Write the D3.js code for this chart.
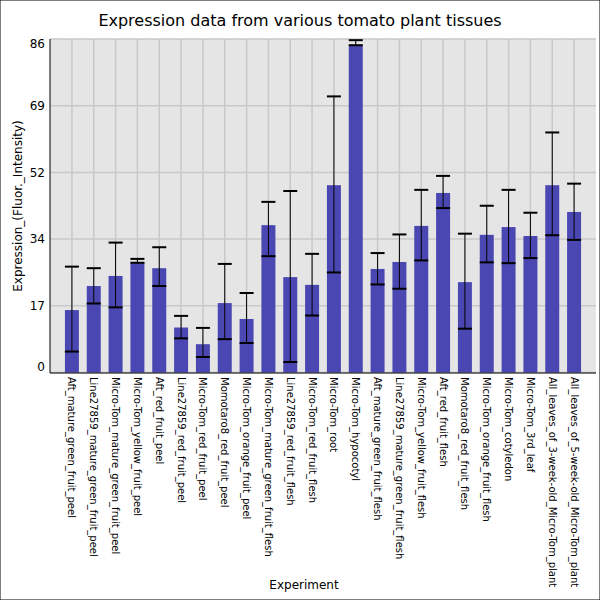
<!DOCTYPE html>
<html>
<head>
<script src="https://cdn.jsdelivr.net/npm/d3@7"></script>
<style>
  body { margin: 0; }
  text { font-family: "DejaVu Sans", sans-serif; }
</style>
</head>
<body>
<script>
const experiments = ['Aft_mature_green_fruit_peel', 'Line27859_mature_green_fruit_peel', 'Micro-Tom_mature_green_fruit_peel',
  'Micro-Tom_yellow_fruit_peel', 'Aft_red_fruit_peel', 'Line27859_red_fruit_peel', 'Micro-Tom_red_fruit_peel',
  'Momotaro8_red_fruit_peel', 'Micro-Tom_orange_fruit_peel', 'Micro-Tom_mature_green_fruit_flesh',
  'Line27859_red_fruit_flesh', 'Micro-Tom_red_fruit_flesh', 'Micro-Tom_root', 'Micro-Tom_hypocotyl',
  'Aft_mature_green_fruit_flesh', 'Line27859_mature_green_fruit_flesh', 'Micro-Tom_yellow_fruit_flesh',
  'Aft_red_fruit_flesh', 'Momotaro8_red_fruit_flesh', 'Micro-Tom_orange_fruit_flesh', 'Micro-Tom_cotyledon',
  'Micro-Tom_3rd_leaf', 'All_leaves_of_3-week-old_Micro-Tom_plant', 'All_leaves_of_5-week-old_Micro-Tom_plant']
const values = [16.1, 22.3, 24.9, 28.4, 26.9, 11.6, 7.3, 17.9, 13.8, 38.0, 24.6, 22.6,
  48.3, 84.4, 26.7, 28.5, 37.8, 46.3, 23.3, 35.5, 37.5, 35.2, 48.3, 41.4]
const errLow = [5.4, 17.8, 16.8, 28.3, 22.3, 8.8, 4.0, 8.6, 7.6, 30.0, 2.7, 14.7,
  25.8, 84.4, 22.7, 21.6, 28.9, 42.4, 11.3, 28.4, 28.2, 29.5, 35.4, 34.2]
const errHigh = [27.3, 26.9, 33.5, 29.3, 32.3, 14.6, 11.5, 28.0, 20.5, 44.0, 46.8, 30.6,
  71.2, 85.7, 30.8, 35.6, 47.1, 50.7, 35.8, 43.0, 47.1, 41.2, 61.9, 48.7]
const yTicks = [0, 17.2, 34.4, 51.6, 68.8, 86]

const W = 600, H = 600
const plot = { left: 50, right: 596, top: 39, bottom: 373 }

const svg = d3.select('body').append('svg').attr('width', W).attr('height', H)
svg.append('rect').attr('width', W).attr('height', H).attr('fill', '#fff')
  .attr('stroke', '#000').attr('stroke-width', 1)

const x = d3.scaleBand().domain(experiments).range([plot.left + 11, plot.right - 11]).paddingInner(0.36).paddingOuter(0.18)
const y = d3.scaleLinear().domain([0, 86]).range([plot.bottom - 0.5, plot.top])

svg.append('rect').attr('x', plot.left).attr('y', plot.top)
  .attr('width', plot.right - plot.left).attr('height', plot.bottom - plot.top).attr('fill', '#e5e5e5')

const g = svg.append('g')
g.selectAll('.hg').data(yTicks).enter().append('line')
  .attr('x1', plot.left).attr('x2', plot.right).attr('y1', d => y(d)).attr('y2', d => y(d))
  .attr('stroke', '#c8c8c8').attr('stroke-width', 1.5)
g.selectAll('.vg').data(experiments).enter().append('line')
  .attr('x1', d => x(d) + x.bandwidth() / 2).attr('x2', d => x(d) + x.bandwidth() / 2)
  .attr('y1', plot.top).attr('y2', plot.bottom).attr('stroke', '#c8c8c8').attr('stroke-width', 1.5)

g.selectAll('.bar').data(experiments).enter().append('rect')
  .attr('x', d => x(d)).attr('width', x.bandwidth())
  .attr('y', (d, i) => y(values[i])).attr('height', (d, i) => y(0) - y(values[i]))
  .attr('fill', '#4b47b2')

const err = g.selectAll('.err').data(experiments).enter().append('g')
  .attr('transform', d => `translate(${x(d) + x.bandwidth() / 2},0)`)
err.append('line').attr('y1', (d, i) => y(errLow[i])).attr('y2', (d, i) => y(errHigh[i]))
  .attr('stroke', '#000').attr('stroke-width', 1)
err.append('line').attr('x1', -7).attr('x2', 7).attr('y1', (d, i) => y(errLow[i])).attr('y2', (d, i) => y(errLow[i]))
  .attr('stroke', '#000').attr('stroke-width', 2)
err.append('line').attr('x1', -7).attr('x2', 7).attr('y1', (d, i) => y(errHigh[i])).attr('y2', (d, i) => y(errHigh[i]))
  .attr('stroke', '#000').attr('stroke-width', 2)

// axes lines
svg.append('line').attr('x1', plot.left).attr('x2', plot.left).attr('y1', plot.top).attr('y2', plot.bottom)
  .attr('stroke', '#000')
svg.append('line').attr('x1', plot.left).attr('x2', plot.right).attr('y1', plot.bottom).attr('y2', plot.bottom)
  .attr('stroke', '#000')

svg.selectAll('.yt').data(yTicks).enter().append('text')
  .attr('x', 45).attr('y', d => y(d)).attr('text-anchor', 'end').attr('font-size', 12)
  .attr('dy', (d, i) => i === 0 ? '-0.1em' : i === yTicks.length - 1 ? '0.75em' : '0.35em')
  .text(d => Math.round(d))

svg.selectAll('.xt').data(experiments).enter().append('text')
  .attr('transform', d => `translate(${x(d) + x.bandwidth() / 2 - 3.5},377) rotate(90)`)
  .attr('font-size', 10).text(d => d)

svg.append('text').attr('x', 300).attr('y', 26).attr('text-anchor', 'middle').attr('font-size', 16)
  .text('Expression data from various tomato plant tissues')
svg.append('text').attr('x', 304).attr('y', 589).attr('text-anchor', 'middle').attr('font-size', 12)
  .text('Experiment')
svg.append('text').attr('transform', 'translate(22,206) rotate(-90)').attr('text-anchor', 'middle')
  .attr('font-size', 12).text('Expression_(Fluor._Intensity)')
</script>
</body>
</html>
